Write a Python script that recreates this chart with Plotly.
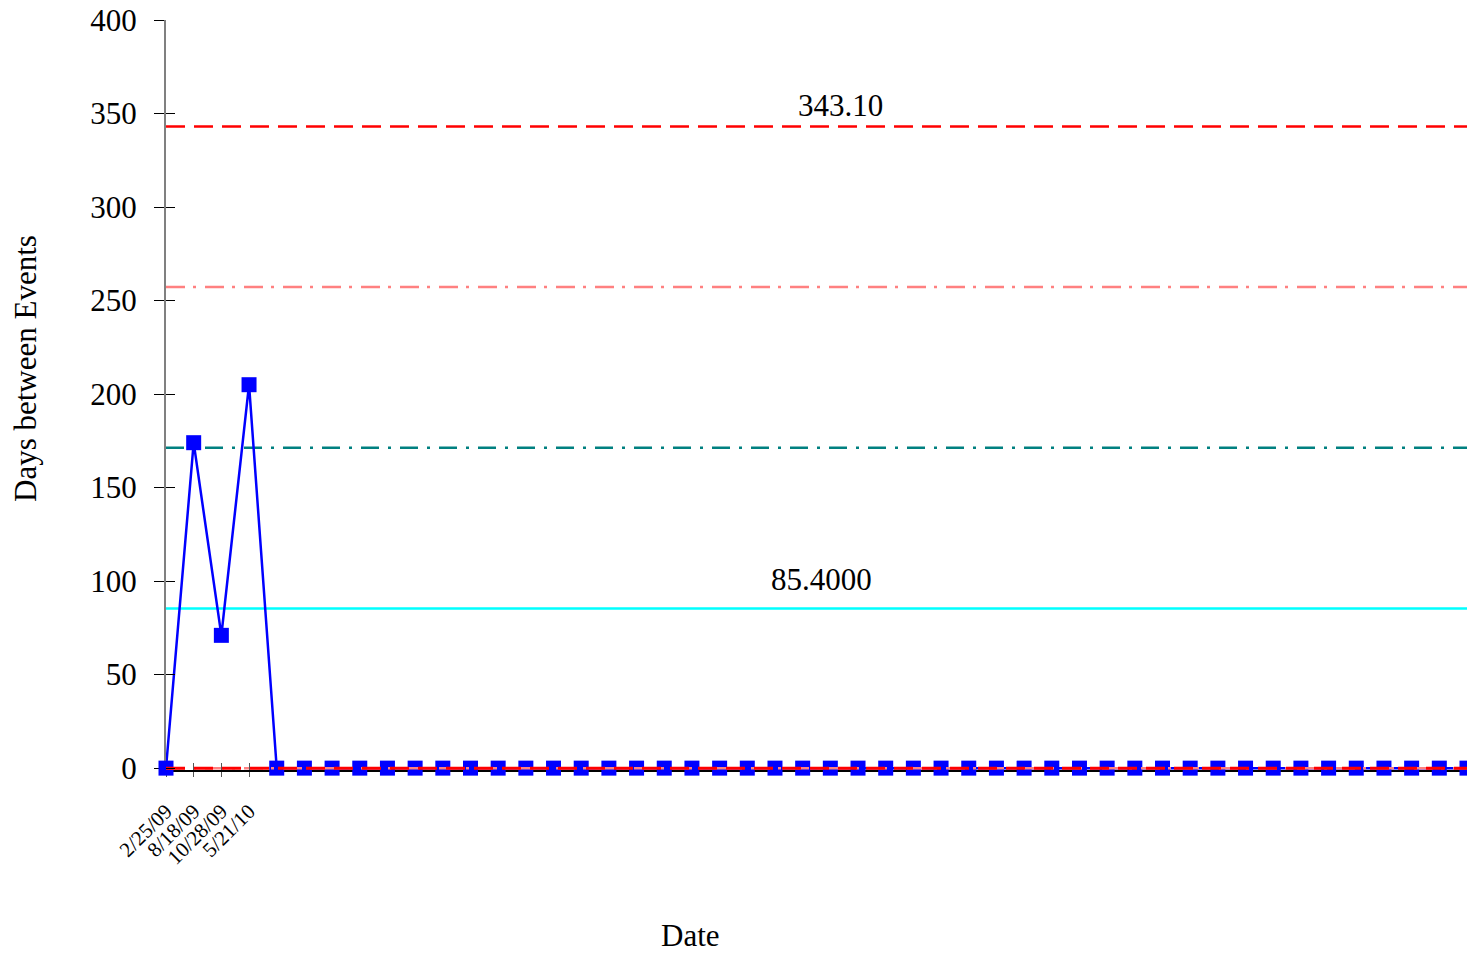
import plotly.graph_objects as go

# ---- data ----
x_index = list(range(48))
days_between = [0, 174, 71, 205, 0, 0, 0, 0, 0, 0, 0, 0, 0, 0, 0, 0,
                 0, 0, 0, 0, 0, 0, 0, 0, 0, 0, 0, 0, 0, 0, 0, 0,
                 0, 0, 0, 0, 0, 0, 0, 0, 0, 0, 0, 0, 0, 0, 0, 0]
tick_positions = [0, 1, 2, 3]
tick_labels = ["2/25/09", "8/18/09", "10/28/09", "5/21/10"]
ucl = 343.10
upper_2sigma = 257.2
upper_1sigma = 171.3
center_line = 85.4
lower_limit = 0.0
y_ticks = [0, 50, 100, 150, 200, 250, 300, 350, 400]
y_range = [-1, 400]

FONT = "Liberation Serif, Times New Roman, serif"
x_span = [x_index[0], x_index[-1]]

fig = go.Figure()

def hline(y, color, dash, width=2.5):
    fig.add_trace(go.Scatter(x=x_span, y=[y, y], mode="lines",
                             line=dict(color=color, dash=dash, width=width),
                             hoverinfo="skip", showlegend=False, cliponaxis=False))

hline(center_line, "#00FFFF", "solid")
hline(upper_1sigma, "#008080", "18px,9px,3px,9px")
hline(upper_2sigma, "#FF8080", "19px,8px,3px,9px")
hline(ucl, "#FF0000", "19px,9px")

fig.add_trace(go.Scatter(x=x_index, y=days_between, mode="lines+markers",
                         line=dict(color="#0000FF", width=2.5),
                         marker=dict(symbol="square", size=15, color="#0000FF"),
                         showlegend=False, cliponaxis=False))

hline(lower_limit, "#FF8080", "19px,8px,3px,9px")
hline(lower_limit, "#FF0000", "19px,9px", width=3)

# overlay axes for inside halves of the crossing ticks
fig.add_trace(go.Scatter(x=[], y=[], xaxis="x2", yaxis="y2", showlegend=False))

fig.update_layout(
    width=1467, height=956,
    margin=dict(l=166, r=0, t=20, b=186),
    paper_bgcolor="white", plot_bgcolor="white",
    font=dict(family=FONT, size=31, color="black"),
    xaxis=dict(range=x_span, tickmode="array", tickvals=tick_positions,
               ticktext=tick_labels, tickangle=-45,
               tickfont=dict(size=21), ticks="outside", ticklen=5,
               tickcolor="#555555", tickwidth=1.2,
               showline=True, linecolor="black", linewidth=1.5,
               layer="below traces",
               showgrid=False, zeroline=False, ticklabelstandoff=14),
    yaxis=dict(range=y_range, tickmode="array", tickvals=y_ticks,
               tickfont=dict(size=31), ticks="outside", ticklen=10,
               tickcolor="black", tickwidth=1.2,
               showline=True, linecolor="#808080", linewidth=2,
               layer="below traces",
               showgrid=False, zeroline=False, ticklabelstandoff=11),
    xaxis2=dict(range=x_span, overlaying="x", anchor="y", side="bottom",
                tickmode="array", tickvals=tick_positions, showticklabels=False,
                ticks="inside", ticklen=7, tickcolor="#555555", tickwidth=1.2,
                showline=False, showgrid=False, zeroline=False),
    yaxis2=dict(range=y_range, overlaying="y", anchor="x", side="left",
                tickmode="array", tickvals=y_ticks, showticklabels=False,
                ticks="inside", ticklen=9, tickcolor="black", tickwidth=1.2,
                showline=False, showgrid=False, zeroline=False),
    annotations=[
        dict(text=f"{ucl:.2f}", x=24.36, y=354.5, xref="x", yref="y",
             xanchor="center", yanchor="middle",
             showarrow=False, font=dict(size=31)),
        dict(text=f"{center_line:.4f}", x=23.67, y=101, xref="x", yref="y",
             xanchor="center", yanchor="middle",
             showarrow=False, font=dict(size=31)),
        dict(text="Days between Events", x=-0.1084, y=0.536, xref="paper",
             yref="paper", textangle=-90, xanchor="center", yanchor="middle",
             showarrow=False, font=dict(size=31)),
        dict(text="Date", x=0.4028, y=-0.2213, xref="paper", yref="paper",
             xanchor="center", yanchor="middle",
             showarrow=False, font=dict(size=31)),
    ],
)

fig.write_html("out.html")
